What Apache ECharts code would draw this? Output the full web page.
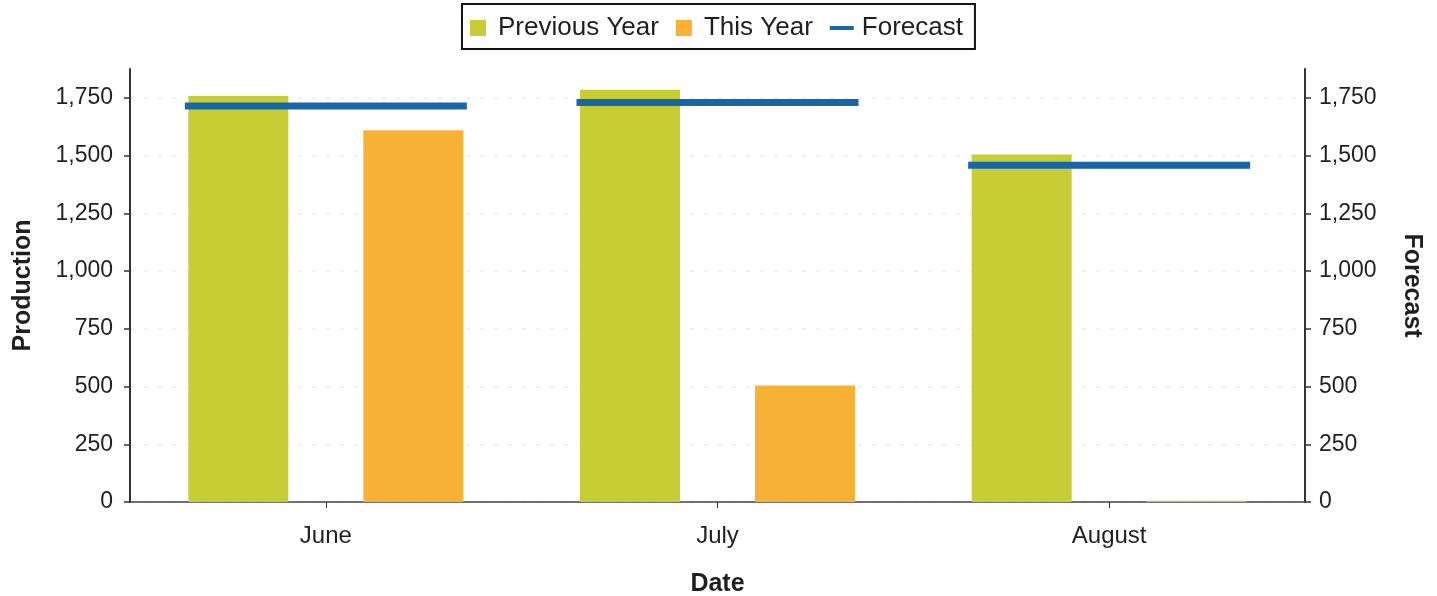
<!DOCTYPE html>
<html>
<head>
<meta charset="utf-8">
<title>Production</title>
<script src="https://cdn.jsdelivr.net/npm/echarts@6/dist/echarts.min.js"></script>
<style>
  html, body { margin: 0; padding: 0; background: #ffffff; }
  #chart { width: 1437px; height: 596px; }
</style>
</head>
<body>
<div id="chart"></div>
<script>
// Monthly production compared with last year and the forecast
const months = ['June', 'July', 'August'];
const previousYear = [1758, 1785, 1505];
const thisYear = [1610, 505, 5];
const forecast = [1715, 1730, 1458];
const yTicks = [0, 250, 500, 750, 1000, 1250, 1500, 1750];

const chart = echarts.init(document.getElementById('chart'));

const textColor = '#1f1f1f';
const font = 'Liberation Sans, Arial, sans-serif';

function valueAxis(position, name, nameRotate, nameGap) {
  return {
    type: 'value',
    position: position,
    min: 0,
    max: 1875,
    interval: 250,
    name: name,
    nameLocation: 'middle',
    nameRotate: nameRotate,
    nameGap: nameGap,
    nameTextStyle: { fontFamily: font, fontSize: 25, fontWeight: 'bold', color: textColor },
    axisLine: { show: true, lineStyle: { color: '#333333', width: 2 } },
    axisTick: { show: true, length: 6, lineStyle: { color: '#333333', width: 1.5 }, customValues: yTicks },
    axisLabel: {
      fontFamily: font, fontSize: 23, color: textColor,
      margin: position === 'left' ? 17 : 14,
      customValues: yTicks,
      formatter: v => v.toLocaleString('en-US')
    },
    splitLine: position === 'left'
      ? { show: true, lineStyle: { color: '#ececec', type: [4, 10], width: 1.5 } }
      : { show: false }
  };
}

chart.setOption({
  animation: false,
  color: ['#c6cd35', '#f7b236', '#1866a7'],
  legend: {
    left: 462,
    top: 4,
    padding: [11, 12, 8, 8],
    borderColor: '#111111',
    borderWidth: 2,
    borderRadius: 0,
    itemGap: 17,
    itemWidth: 24,
    itemHeight: 16,
    textStyle: { fontFamily: font, fontSize: 26, color: textColor, padding: [0, 0, 0, 3] },
    data: [
      { name: 'Previous Year', icon: 'path://M0,0H16V16H0Z' },
      { name: 'This Year', icon: 'path://M0,0H16V16H0Z' },
      { name: 'Forecast', icon: 'path://M0,0H24V4H0Z' }
    ]
  },
  grid: { left: 130, right: 132, top: 69, bottom: 94, outerBoundsMode: 'none', containLabel: false },
  xAxis: {
    type: 'category',
    data: months,
    name: 'Date',
    nameLocation: 'middle',
    nameGap: 70,
    nameTextStyle: { fontFamily: font, fontSize: 25, fontWeight: 'bold', color: textColor },
    axisLine: { show: true, lineStyle: { color: '#444444', width: 1.5 } },
    axisTick: { show: true, alignWithLabel: true, length: 6, lineStyle: { color: '#333333' } },
    axisLabel: { fontFamily: font, fontSize: 24, color: textColor, margin: 22 }
  },
  yAxis: [
    valueAxis('left', 'Production', 90, 94),
    valueAxis('right', 'Forecast', -90, 94)
  ],
  series: [
    {
      name: 'Previous Year',
      type: 'bar',
      data: previousYear,
      barWidth: 100,
      barGap: '75%'
    },
    {
      name: 'This Year',
      type: 'bar',
      data: thisYear,
      barWidth: 100,
      barGap: '75%'
    },
    {
      name: 'Forecast',
      type: 'custom',
      yAxisIndex: 1,
      z: 5,
      data: forecast.map((v, i) => [i, v]),
      encode: { x: 0, y: 1 },
      renderItem: function (params, api) {
        const p = api.coord([api.value(0), api.value(1)]);
        const band = api.size([1, 0])[0];
        const half = band * 0.36;
        return {
          type: 'line',
          shape: { x1: p[0] - half, y1: p[1], x2: p[0] + half, y2: p[1] },
          style: { stroke: '#1866a7', lineWidth: 7 }
        };
      }
    }
  ]
});
</script>
</body>
</html>
